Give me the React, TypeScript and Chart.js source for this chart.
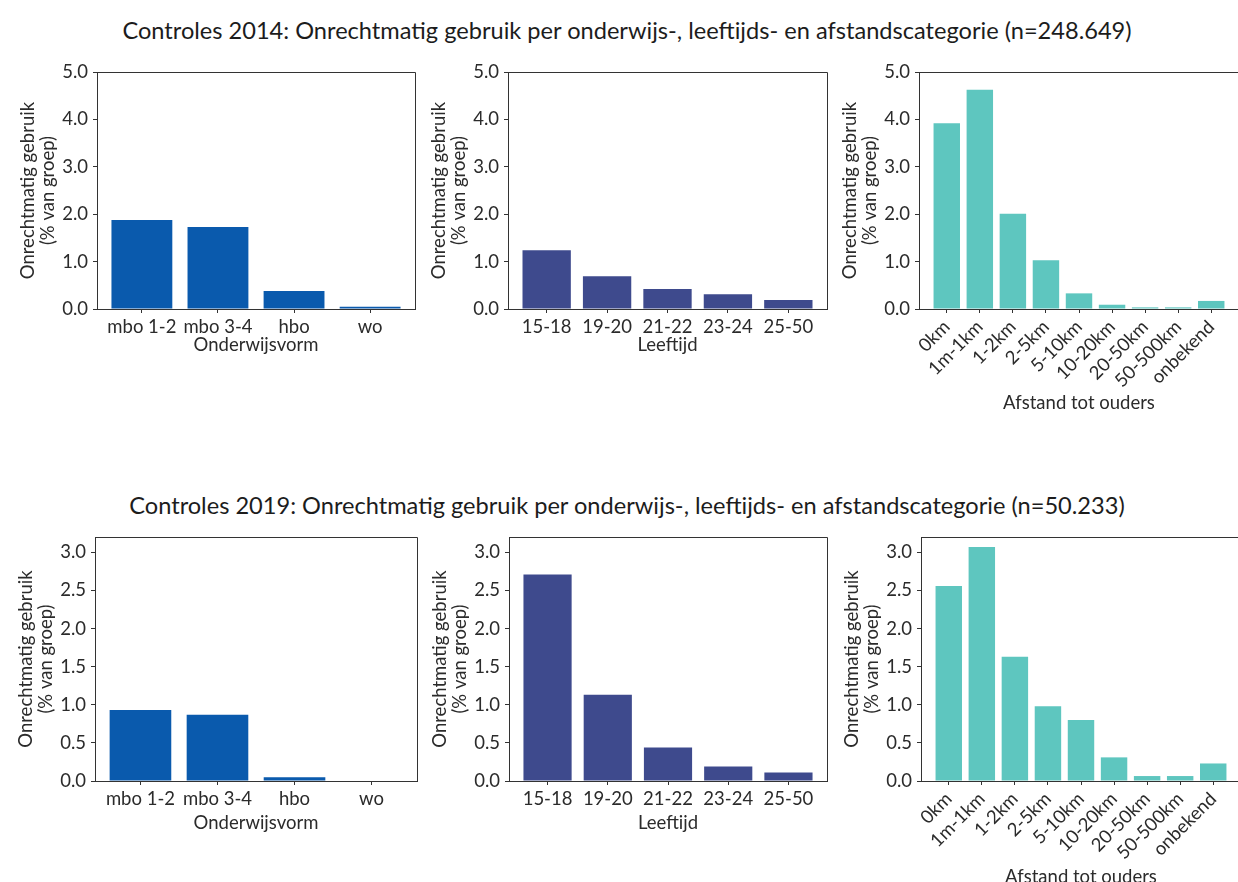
import React, { useEffect, useRef } from "react";
import { Chart, registerables } from "chart.js";

Chart.register(...registerables);

// ---- data ----
const eduCategories = ["mbo 1-2", "mbo 3-4", "hbo", "wo"];
const ageCategories = ["15-18", "19-20", "21-22", "23-24", "25-50"];
const distCategories = ["0km", "1m-1km", "1-2km", "2-5km", "5-10km", "10-20km", "20-50km", "50-500km", "onbekend"];

const edu2014 = [1.88, 1.73, 0.38, 0.05];
const age2014 = [1.24, 0.69, 0.42, 0.31, 0.19];
const dist2014 = [3.92, 4.63, 2.01, 1.03, 0.33, 0.09, 0.035, 0.035, 0.17];

const edu2019 = [0.93, 0.87, 0.05, 0.0];
const age2019 = [2.71, 1.13, 0.44, 0.19, 0.11];
const dist2019 = [2.56, 3.07, 1.63, 0.98, 0.8, 0.31, 0.065, 0.065, 0.23];

const yTicks2014 = [0, 1, 2, 3, 4, 5];
const yTicks2019 = [0, 0.5, 1, 1.5, 2, 2.5, 3];

const title2014 = "Controles 2014: Onrechtmatig gebruik per onderwijs-, leeftijds- en afstandscategorie (n=248.649)";
const title2019 = "Controles 2019: Onrechtmatig gebruik per onderwijs-, leeftijds- en afstandscategorie (n=50.233)";
const yTitle = ["Onrechtmatig gebruik", "(% van groep)"];

const COLOR_EDU = "#0a5aad";
const COLOR_AGE = "#3e4a8d";
const COLOR_DIST = "#5ec6bf";
const FONT = "Lato, 'Noto Sans', sans-serif";
const TEXT = "#2b2b2b";
const AXIS = "#333333";
const FS = 18.5;

const Y_W = 90;
const PAD_TOP = 12;
const PAD_RIGHT = 25;

const framePlugin = {
  id: "frame",
  afterDraw(chart: any) {
    const { ctx, chartArea } = chart;
    const { left, top, right, bottom } = chartArea;
    ctx.save();
    ctx.strokeStyle = AXIS;
    ctx.lineWidth = 1;
    ctx.beginPath();
    ctx.moveTo(Math.round(left) + 0.5, Math.round(top) + 0.5);
    ctx.lineTo(Math.round(right) + 0.5, Math.round(top) + 0.5);
    ctx.lineTo(Math.round(right) + 0.5, Math.round(bottom) + 0.5);
    ctx.stroke();
    ctx.restore();
  },
};

type PanelProps = {
  categories: string[];
  values: number[];
  color: string;
  yMax: number;
  yTicks: number[];
  xTitle: string;
  rotate: number;
  plotLeft: number;
  plotTop: number;
  plotW: number;
  plotH: number;
  xAxisH: number;
};

function Panel(p: PanelProps) {
  const ref = useRef<HTMLCanvasElement | null>(null);
  const width = Y_W + p.plotW + PAD_RIGHT;
  const height = PAD_TOP + p.plotH + p.xAxisH;

  useEffect(() => {
    if (!ref.current) return;
    const n = p.categories.length;
    const margin = 0.05 * (n - 1 + 0.8);
    const chart = new Chart(ref.current, {
      type: "bar",
      data: {
        datasets: [
          {
            data: p.values.map((v, i) => ({ x: i, y: v })),
            backgroundColor: p.color,
            borderWidth: 0,
            barPercentage: 0.8,
            categoryPercentage: 1.0,
          } as any,
        ],
      },
      options: {
        responsive: false,
        maintainAspectRatio: false,
        animation: false,
        devicePixelRatio: 1,
        layout: { padding: { top: PAD_TOP, right: PAD_RIGHT, left: 0, bottom: 0 } },
        plugins: { legend: { display: false }, tooltip: { enabled: false } },
        scales: {
          x: {
            type: "linear",
            offset: false,
            min: -0.4 - margin,
            max: n - 1 + 0.4 + margin,
            afterBuildTicks: (axis: any) => {
              axis.ticks = p.categories.map((_, i) => ({ value: i }));
            },
            afterFit: (s: any) => {
              s.height = p.xAxisH;
            },
            ticks: {
              autoSkip: false,
              maxRotation: p.rotate,
              minRotation: p.rotate,
              padding: 3,
              color: TEXT,
              font: { family: FONT, size: FS },
              callback: (v: any) => p.categories[Math.round(Number(v))] ?? "",
            },
            grid: { display: true, offset: false, drawOnChartArea: false, drawTicks: true, tickLength: 4, color: AXIS },
            border: { display: true, color: AXIS },
            title: {
              display: true,
              text: p.xTitle,
              color: TEXT,
              font: { family: FONT, size: FS },
              padding: { top: 0, bottom: 0 },
            },
          },
          y: {
            min: 0,
            max: p.yMax,
            afterBuildTicks: (axis: any) => {
              axis.ticks = p.yTicks.map((v) => ({ value: v }));
            },
            afterFit: (s: any) => {
              s.width = Y_W;
            },
            ticks: {
              padding: 5,
              color: TEXT,
              font: { family: FONT, size: FS },
              callback: (v: any) => Number(v).toFixed(1),
            },
            grid: { display: true, drawOnChartArea: false, drawTicks: true, tickLength: 4, color: AXIS },
            border: { display: true, color: AXIS },
            title: {
              display: true,
              text: yTitle,
              color: TEXT,
              font: { family: FONT, size: FS, lineHeight: 1.1 },
              padding: { top: 11, bottom: 0 },
            },
          },
        },
      } as any,
      plugins: [framePlugin],
    });
    return () => chart.destroy();
  }, []);

  return (
    <canvas
      ref={ref}
      width={width}
      height={height}
      style={{
        position: "absolute",
        left: p.plotLeft - Y_W,
        top: p.plotTop - PAD_TOP,
        width,
        height,
      }}
    />
  );
}

const titleStyle = (top: number): React.CSSProperties => ({
  position: "absolute",
  left: 0,
  width: 1254,
  top,
  textAlign: "center",
  fontFamily: FONT,
  fontSize: 23.6,
  lineHeight: "26px",
  color: "#1c1c1c",
  whiteSpace: "nowrap",
});

export default function App() {
  return (
    <div
      style={{
        position: "fixed",
        left: 0,
        top: 0,
        width: 1238,
        height: 882,
        overflow: "hidden",
        background: "#ffffff",
      }}
    >
      <div style={titleStyle(17)}>{title2014}</div>
      <div style={titleStyle(492)}>{title2019}</div>

      <Panel categories={eduCategories} values={edu2014} color={COLOR_EDU} yMax={5} yTicks={yTicks2014}
        xTitle="Onderwijsvorm" rotate={0} plotLeft={97} plotTop={68} plotW={318} plotH={241} xAxisH={47} />
      <Panel categories={ageCategories} values={age2014} color={COLOR_AGE} yMax={5} yTicks={yTicks2014}
        xTitle="Leeftijd" rotate={0} plotLeft={508} plotTop={68} plotW={319} plotH={241} xAxisH={47} />
      <Panel categories={distCategories} values={dist2014} color={COLOR_DIST} yMax={5} yTicks={yTicks2014}
        xTitle="Afstand tot ouders" rotate={45} plotLeft={919} plotTop={68} plotW={320} plotH={241} xAxisH={105} />

      <Panel categories={eduCategories} values={edu2019} color={COLOR_EDU} yMax={3.2} yTicks={yTicks2019}
        xTitle="Onderwijsvorm" rotate={0} plotLeft={95} plotTop={533} plotW={322} plotH={248} xAxisH={53} />
      <Panel categories={ageCategories} values={age2019} color={COLOR_AGE} yMax={3.2} yTicks={yTicks2019}
        xTitle="Leeftijd" rotate={0} plotLeft={509} plotTop={533} plotW={318} plotH={248} xAxisH={53} />
      <Panel categories={distCategories} values={dist2019} color={COLOR_DIST} yMax={3.2} yTicks={yTicks2019}
        xTitle="Afstand tot ouders" rotate={45} plotLeft={921} plotTop={533} plotW={320} plotH={248} xAxisH={107} />
    </div>
  );
}
